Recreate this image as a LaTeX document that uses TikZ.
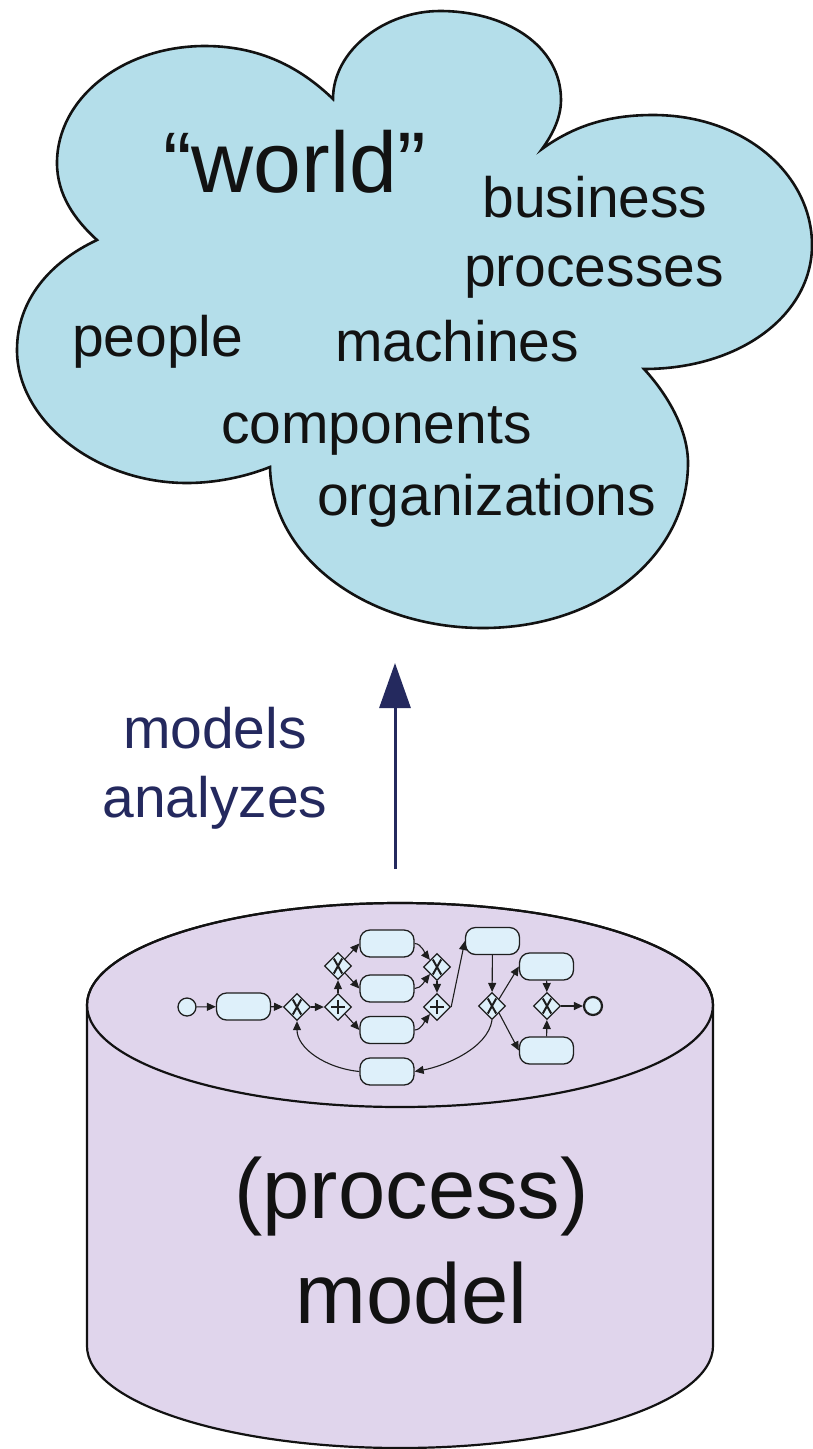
\documentclass[tikz,border=0pt]{standalone}
\usepackage{fontspec}
\setmainfont{Liberation Sans}
\usetikzlibrary{arrows.meta,shapes.geometric}
\definecolor{cloudfill}{RGB}{180,222,234}
\definecolor{cylfill}{RGB}{224,213,236}
\definecolor{navy}{RGB}{36,41,94}
\definecolor{ink}{RGB}{18,18,18}
\definecolor{bpfill}{RGB}{222,240,250}
\definecolor{bpline}{RGB}{30,30,30}
\begin{document}
\begin{tikzpicture}[x=1pt,y=-1pt,
  cloudtxt/.style={inner sep=0pt, text=ink, font=\fontsize{57}{69}\selectfont},
  bigtxt/.style={inner sep=0pt, text=ink, font=\fontsize{85}{100}\selectfont},
  navytxt/.style={inner sep=0pt, text=navy, font=\fontsize{57}{69}\selectfont},
  task/.style={draw=bpline, fill=bpfill, line width=1.3pt, rectangle, rounded corners=10pt,
    minimum width=54pt, minimum height=27pt, inner sep=0pt},
  gateway/.style={draw=bpline, fill=bpfill, line width=1.3pt, diamond,
    minimum width=27pt, minimum height=27pt, inner sep=0pt},
  gwx/.style={gateway, path picture={
    \draw[line width=2pt,bpline]
      ([shift={(-4.2,-7.5)}]path picture bounding box.center) -- ([shift={(4.2,7.5)}]path picture bounding box.center)
      ([shift={(-4.2,7.5)}]path picture bounding box.center) -- ([shift={(4.2,-7.5)}]path picture bounding box.center);}},
  gwp/.style={gateway, path picture={
    \draw[line width=2.2pt,bpline]
      ([shift={(-7,0)}]path picture bounding box.center) -- ([shift={(7,0)}]path picture bounding box.center)
      ([shift={(0,-7)}]path picture bounding box.center) -- ([shift={(0,7)}]path picture bounding box.center);}},
  startev/.style={draw=bpline, fill=bpfill, line width=1.3pt, circle, minimum size=18pt, inner sep=0pt},
  endev/.style={draw=bpline, fill=bpfill, line width=2.2pt, circle, minimum size=18pt, inner sep=0pt},
  flow/.style={draw=bpline, line width=1.1pt, -{Triangle[length=9pt,width=8pt]}}
]
\useasboundingbox (0,0) rectangle (812,1449);
\fill[white] (0,0) rectangle (812,1449);

% ---------- cloud ----------
\draw[fill=cloudfill, draw=ink, line width=2.6pt, line join=miter] (97,240)
 .. controls (75,220) and (57,195) .. (57,163)
 .. controls (57,98) and (123,46) .. (205,46)
 .. controls (265,46) and (305,72) .. (333,99)
 .. controls (333,50) and (385,11) .. (440,11)
 .. controls (505,11) and (561,45) .. (561,100)
 .. controls (561,120) and (550,138) .. (542,149)
 .. controls (575,125) and (610,115) .. (653,115)
 .. controls (745,115) and (812,175) .. (812,245)
 .. controls (812,315) and (740,369) .. (644,369)
 .. controls (668,395) and (688,430) .. (688,463)
 .. controls (688,555) and (600,628) .. (483,628)
 .. controls (370,628) and (272,560) .. (270,467)
 .. controls (245,477) and (215,483) .. (187,483)
 .. controls (95,483) and (17,420) .. (17,350)
 .. controls (17,300) and (50,262) .. (97,240) -- cycle;

\node[inner sep=0pt, text=ink, font=\fontsize{86}{100}\selectfont, anchor=base west] (world) at (163,192) {“world”};
\node[cloudtxt, anchor=base] (business) at (595,217) {business};
\node[cloudtxt, anchor=base] (processes) at (594,286) {processes};
\node[cloudtxt, anchor=base west] (people) at (72,356) {people};
\node[cloudtxt, anchor=base west] (machines) at (335,361) {machines};
\node[cloudtxt, anchor=base west] (components) at (221,443) {components};
\node[cloudtxt, anchor=base west] (organizations) at (317,515) {organizations};

% ---------- arrow ----------
\coordinate (abase) at (395,869);
\coordinate (atip) at (395,663);
\draw[navy, line width=3pt, -{Triangle[length=45pt,width=31pt]}] (abase) -- (atip);
\node[navytxt, anchor=base] (lblmodels) at (215,748) {models};
\node[navytxt, anchor=base] (lblanalyzes) at (215,817) {analyzes};

% ---------- cylinder ----------
\draw[fill=cylfill, draw=ink, line width=2.2pt] (87,1005) -- (87,1346)
  arc[start angle=180, end angle=0, x radius=313, y radius=102] -- (713,1005)
  arc[start angle=0, end angle=-180, x radius=313, y radius=102] -- cycle;
\draw[draw=ink, line width=2.2pt] (400,1005) ellipse[x radius=313, y radius=102];

\node[bigtxt, anchor=base] (proc) at (411.5,1218) {(process)};
\node[bigtxt, anchor=base] (model) at (411.5,1323) {model};

% ---------- process model ----------
\node[startev] (s) at (187,1007) {};
\node[task] (t1) at (243.5,1006.5) {};
\node[gwx] (x1) at (297,1007) {};
\node[gwp] (p1) at (338,1007) {};
\node[gwx] (x2) at (338,966) {};
\node[task] (ta) at (387,943.5) {};
\node[task] (tb) at (387,988.5) {};
\node[task] (tc) at (387,1030) {};
\node[task] (td) at (387,1071.5) {};
\node[gwx] (x3) at (437,967) {};
\node[gwp] (p2) at (437,1007) {};
\node[task] (te) at (492.5,941) {};
\node[gwx] (x4) at (492,1006) {};
\node[task] (tf) at (546.5,966.5) {};
\node[task] (tg) at (546.5,1050.5) {};
\node[gwx] (x5) at (547,1006) {};
\node[endev] (e) at (593,1006) {};

\draw[flow] (s) -- (t1);
\draw[flow] (t1) -- (x1);
\draw[flow] (x1) -- (p1);
\draw[flow] (p1) -- (x2);
\draw[flow] (x2.north east) -- (ta.west);
\draw[flow] (x2.south east) -- (tb.west);
\draw[flow] (p1.south east) -- (tc.west);
\draw[flow] (ta.east) .. controls +(7,0) and +(-4,-5) .. (x3.north west);
\draw[flow] (tb.east) .. controls +(7,0) and +(-4,5) .. (x3.south west);
\draw[flow] (x3) -- (p2);
\draw[flow] (tc.east) .. controls +(7,0) and +(-4,5) .. (p2.south west);
\draw[flow] (p2.east) -- (te.west);
\draw[flow] (te) -- (x4);
\draw[flow] (x4.north east) -- (tf.west);
\draw[flow] (x4.south east) -- (tg.west);
\draw[flow] (x4.south) .. controls (488,1048) and (445,1066) .. (td.east);
\draw[flow] (td.west) .. controls (325,1068) and (297,1048) .. (x1.south);
\draw[flow] (tf) -- (x5);
\draw[flow] (tg) -- (x5);
\draw[flow] (x5) -- (e);
\end{tikzpicture}
\end{document}
